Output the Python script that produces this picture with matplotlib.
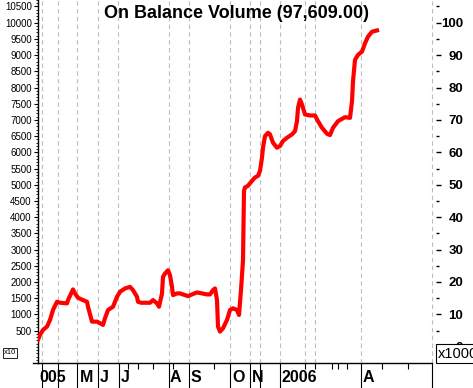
import matplotlib
matplotlib.use("Agg")
import matplotlib.pyplot as plt
from matplotlib.ticker import FixedLocator, MultipleLocator, FuncFormatter
from matplotlib.lines import Line2D

plt.rcParams['font.family'] = ['Liberation Sans', 'DejaVu Sans']

# OBV values (left axis is x10), x = trading-day index
bar_idx = [0, 2, 5, 9, 12, 15, 19, 22, 29, 30, 35, 37, 40, 45, 49, 50, 54, 59, 62, 65,
           67, 70, 75, 79, 82, 87, 92, 95, 99, 100, 103, 112, 115, 119, 121, 124, 125, 127, 130, 132,
           134, 135, 139, 142, 145, 150, 154, 159, 164, 169, 172, 175, 177, 179, 180, 182, 185, 189, 192, 195,
           199, 201, 203, 205, 206, 207, 210, 214, 217, 220, 222, 224, 225, 227, 230, 232, 235, 239, 242, 245,
           249, 254, 257, 259, 260, 262, 264, 267, 272, 277, 280, 284, 289, 292, 295, 300, 307, 312, 314, 315,
           317, 320, 324, 327, 330, 334, 339]
obv = [215, 368, 521, 623, 828, 1135, 1389, 1359, 1340, 1441, 1770, 1647, 1512, 1441, 1389, 1236, 776, 776, 727, 675,
       880, 1135, 1236, 1543, 1696, 1800, 1849, 1748, 1543, 1389, 1359, 1359, 1441, 1340, 1236, 1647, 2156, 2260, 2362, 2208,
       1849, 1595, 1647, 1647, 1616, 1564, 1616, 1678, 1647, 1616, 1616, 1748, 1800, 1441, 623, 469, 573, 828, 1135, 1187,
       1135, 981, 1748, 2668, 4815, 4916, 4968, 5122, 5223, 5275, 5429, 5836, 6143, 6502, 6603, 6554, 6297, 6143, 6195, 6349,
       6450, 6554, 6656, 6962, 7370, 7628, 7474, 7168, 7137, 7137, 6962, 6757, 6573, 6533, 6757, 6962, 7085, 7063, 7575, 8189,
       8854, 9008, 9109, 9364, 9569, 9722, 9761]

# month separators, labels and grid
sep_idx = [4, 20, 39, 60, 81, 131, 151, 192, 212, 222, 242, 323, 394]
minor_idx = [90, 100, 115, 135, 176, 267, 277, 294, 300, 309, 344, 370]
month_labels = ["005", "M", "J", "J", "A", "S", "O", "N", "2006", "A"]
month_label_idx = [1, 42, 62, 83, 132, 153, 194, 214, 244, 325]
grid_idx = [4, 20, 39, 60, 80, 131, 151, 192, 212, 222, 242, 267, 277, 323]

W, H = 473, 388
fig = plt.figure(figsize=(W / 100, H / 100), dpi=100)
ax = fig.add_axes([38 / W, 25 / H, 394 / W, 363 / H])

ax.set_xlim(0, 394)
ax.set_ylim(-500, 10700)

for g in grid_idx:
    ax.axvline(g, color='#bdbdbd', lw=0.8, ls=(0, (4, 3)), zorder=1)
ax.axvline(394, color='#bdbdbd', lw=0.8, ls=(0, (4, 3)), zorder=1, clip_on=False)

ax.plot(bar_idx, obv, color='#ff0000', lw=3.0, solid_joinstyle='round', zorder=3)

ax.text(0.505, 0.962, "On Balance Volume (97,609.00)", transform=ax.transAxes,
        ha='center', va='center', fontsize=13, fontweight='bold')

# spines
for s in ['top', 'right']:
    ax.spines[s].set_visible(False)
ax.spines['left'].set_linewidth(1.0)
ax.spines['bottom'].set_linewidth(1.0)

# x axis: long separators + short ticks, labels to the right
ax.xaxis.set_major_locator(FixedLocator(sep_idx))
ax.xaxis.set_minor_locator(FixedLocator(minor_idx))
ax.tick_params(axis='x', which='major', length=19, width=0.8, labelbottom=False)
ax.tick_params(axis='x', which='minor', length=4.5, width=0.8)
for lab, xi in zip(month_labels, month_label_idx):
    ax.text(xi, -0.041, lab, transform=ax.get_xaxis_transform(), ha='left', va='center',
            fontsize=11.5, fontweight='bold', clip_on=False)

# left axis
ax.yaxis.set_major_locator(FixedLocator(list(range(500, 10501, 500))))
ax.yaxis.set_minor_locator(MultipleLocator(100))
ax.yaxis.set_major_formatter(FuncFormatter(lambda v, p: f"{int(v)}"))
ax.tick_params(axis='y', which='major', length=3, width=0.8, labelsize=7, pad=1.5)
ax.tick_params(axis='y', which='minor', length=1.5, width=0.6)

# right axis (x1000)
ax2 = ax.twinx()
ax2.set_ylim(ax.get_ylim())
for s in ['top', 'left', 'bottom']:
    ax2.spines[s].set_visible(False)
ax2.spines['right'].set_position(('outward', 3))
ax2.spines['right'].set_visible(False)
ax2.yaxis.set_major_locator(FixedLocator(list(range(0, 10001, 1000))))
ax2.yaxis.set_minor_locator(FixedLocator(list(range(500, 10501, 1000))))
ax2.yaxis.set_major_formatter(FuncFormatter(lambda v, p: f"{int(round(v / 100))}"))
ax2.tick_params(axis='y', which='major', length=3.5, width=1.0, labelsize=9.5, pad=16)
ax2.tick_params(axis='y', which='minor', length=2, width=1.0)
for lab in ax2.get_yticklabels():
    lab.set_ha('right')
    lab.set_fontweight('bold')

# extend bottom axis line to the left a bit
fig.add_artist(Line2D([33 / W, 38 / W], [25 / H, 25 / H], color='black', lw=1.0))

# multiplier boxes
fig.text(438 / W, 1 - 353.5 / H, "x1000", ha='left', va='center', fontsize=10.5, zorder=10,
         bbox=dict(boxstyle='square,pad=0.15', fc='white', ec='black', lw=0.8))
fig.text(4 / W, 1 - 353 / H, "x10", ha='left', va='center', fontsize=5.5,
         bbox=dict(boxstyle='square,pad=0.15', fc='white', ec='black', lw=0.6))

fig.savefig("out.png", dpi=100)
